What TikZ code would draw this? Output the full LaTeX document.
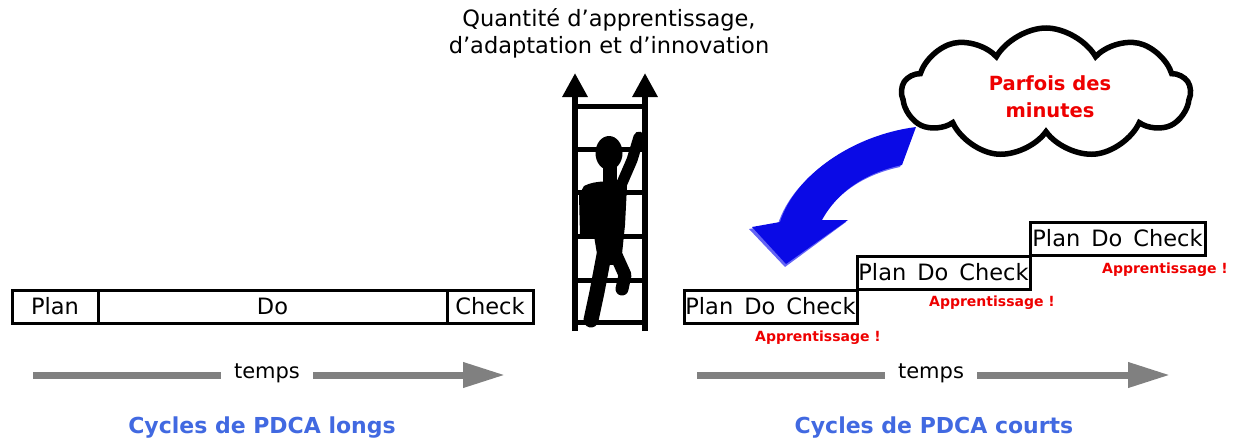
\documentclass[tikz,border=0pt]{standalone}
\usepackage{fontspec}
\setmainfont{DejaVu Sans}
\usetikzlibrary{shapes.symbols,arrows.meta}
\definecolor{titleblue}{RGB}{65,105,225}
\definecolor{alertred}{RGB}{238,0,0}
\definecolor{timegray}{RGB}{128,128,128}
\definecolor{arrowblue}{RGB}{10,10,230}
\definecolor{arrowlight}{RGB}{100,100,245}
\begin{document}
\begin{tikzpicture}[x=1pt,y=-1pt,
  every node/.style={inner sep=0pt},
  cell/.style={draw, line width=3pt, minimum height=33pt, font=\fontsize{22.5}{22.5}\selectfont},
  timeline/.style={draw=timegray, line width=7pt},
  timetip/.style={timeline, -{Triangle[length=42pt,width=24pt]}},
  timelabel/.style={inner xsep=13pt, font=\fontsize{21}{21}\selectfont},
  title/.style={text=titleblue, font=\fontsize{22}{22}\selectfont\bfseries},
  learned/.style={text=alertred, font=\fontsize{14}{14}\selectfont\bfseries},
  rail/.style={line width=6pt, -{Triangle[length=24pt,width=24pt]}},
  rung/.style={line width=5pt},
  limb/.style={line width=12pt, line cap=round, line join=round}
]
\useasboundingbox (0,0) rectangle (1238,442);

\newcommand{\pdc}{Plan\hspace{11pt}Do\hspace{11pt}Check}

% long cycle
\node[cell, minimum width=86pt]  (lplan)  at (55,306.5)    {Plan};
\node[cell, minimum width=349pt] (ldo)    at (272.5,306.5) {Do};
\node[cell, minimum width=86pt]  (lcheck) at (490,306.5)   {Check};

\node[timelabel] (ltemps) at (267,373) {temps};
\coordinate (lstart) at (33,375);
\coordinate (lend)   at (505,375);
\draw[timeline] (lstart) -- (ltemps.west |- lstart);
\draw[timetip] (ltemps.east |- lstart) -- (lend);

\node[title] (ltitle) at (262,428) {Cycles de PDCA longs};

% short cycles
\node[cell, minimum width=173pt] (s1) at (770.5,306.5)  {\pdc};
\node[cell, minimum width=173pt] (s2) at (943.5,272.5)  {\pdc};
\node[cell, minimum width=175pt] (s3) at (1117.5,238.5) {\pdc};

\node[learned] (a1) at (818,338) {Apprentissage !};
\node[learned] (a2) at (992,303) {Apprentissage !};
\node[learned] (a3) at (1165,270) {Apprentissage !};

\node[timelabel] (rtemps) at (931,373) {temps};
\coordinate (rstart) at (697,375);
\coordinate (rend)   at (1170,375);
\draw[timeline] (rstart) -- (rtemps.west |- rstart);
\draw[timetip] (rtemps.east |- rstart) -- (rend);

\node[title] (rtitle) at (934,428) {Cycles de PDCA courts};

% heading above the ladder
\node[align=center, font=\fontsize{22.5}{27}\selectfont] (head) at (609,33)
  {Quantité d’apprentissage,\\d’adaptation et d’innovation};

% ladder
\coordinate (lb) at (575,331);
\coordinate (lt) at (575,73);
\coordinate (rb) at (645,331);
\coordinate (rt) at (645,73);
\draw[rail] (lb) -- (lt);
\draw[rail] (rb) -- (rt);
\foreach \y in {106,149,192,236,280,322}
  \draw[rung] (575,\y) -- (645,\y);

% climber
\fill (609,153) ellipse [x radius=13.5pt, y radius=17pt];
\fill (603,165) rectangle (617,186);
\fill (584,186) .. controls (595,180) and (615,180) .. (627,186)
  -- (625,225) -- (621,264) -- (599,266) -- (594,236) -- (580,236) -- (579,195) -- cycle;
\draw[limb, line width=11pt] (619,190) -- (632,160) -- (639,137);
\draw[limb, line width=15pt] (604,255) -- (597,292) -- (591,320);
\draw[limb, line width=13pt] (616,255) -- (625,275) -- (622,289);

% cloud
\node[cloud, draw, line width=5.5pt, cloud puffs=9, cloud puff arc=120,
      cloud ignores aspect, minimum width=288pt, minimum height=130pt,
      fill=white] (cloud) at (1046,93) {};
\node[align=center, text=alertred, font=\fontsize{19.5}{27}\selectfont\bfseries]
  (cloudtext) at (1050,97) {Parfois des\\minutes};

% curved blue arrow coming down from the cloud
\fill[arrowlight] (914,129) .. controls (851,137) and (793,177) .. (778,224)
  -- (749,229) -- (785,267) -- (846,222) -- (820,222)
  .. controls (837,191) and (867,174) .. (900,167) -- cycle;
\fill[arrowblue] (916,127) .. controls (853,135) and (795,175) .. (780,222)
  -- (752,227) -- (786,264) -- (848,220) -- (822,220)
  .. controls (839,189) and (869,172) .. (902,165) -- cycle;
\end{tikzpicture}
\end{document}
